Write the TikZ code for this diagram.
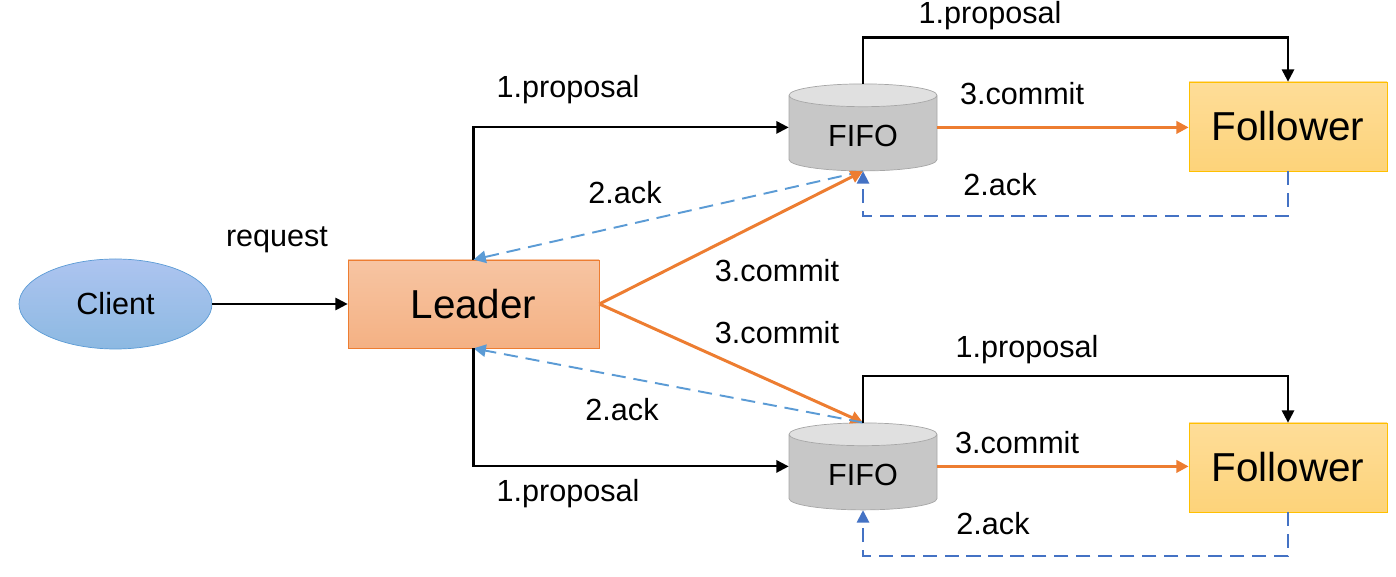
\documentclass[tikz,border=0pt]{standalone}
\usepackage{fontspec}
\setmainfont{Liberation Sans}
\usetikzlibrary{arrows.meta,shapes.geometric}
\definecolor{orangeln}{RGB}{237,125,49}
\definecolor{ackblue}{RGB}{91,155,213}
\definecolor{loopblue}{RGB}{68,114,196}
\tikzset{
  lbl/.style={font=\fontsize{17.4}{20}\selectfont},
  big/.style={font=\fontsize{23}{26}\selectfont},
  tip/.style={-{Triangle[length=7pt,width=7pt]}},
  msg/.style={tip,line width=1.2pt},
  commit/.style={tip,line width=1.7pt,draw=orangeln},
  ack/.style={tip,line width=1.1pt,draw=ackblue,dash pattern=on 8pt off 4.5pt},
  back/.style={tip,line width=1.1pt,draw=loopblue,dash pattern=on 8pt off 4.5pt},
  clientnode/.style={ellipse,draw=ackblue,top color=blue!20!ackblue!45,bottom color=ackblue!70,
    minimum width=3.86cm,minimum height=1.8cm,lbl},
  leadernode/.style={rectangle,draw=orangeln,top color=orangeln!45,bottom color=orangeln!60,
    minimum width=5.02cm,minimum height=1.76cm,big},
  follownode/.style={rectangle,draw={rgb,255:red,255;green,192;blue,0},
    top color={rgb,255:red,254;green,221;blue,152},bottom color={rgb,255:red,253;green,211;blue,122},
    minimum width=3.96cm,minimum height=1.78cm,big},
  fifonode/.style={cylinder,shape border rotate=90,aspect=0.28,draw=black!35,
    cylinder uses custom fill,cylinder body fill=black!22,cylinder end fill=black!12,
    minimum width=2.96cm,minimum height=1.74cm,lbl}
}
\begin{document}
\begin{tikzpicture}
\useasboundingbox (0,0) rectangle (27.92,11.52);
% nodes
\node[clientnode] (client) at (2.31,5.44) {Client};
\node[leadernode] (leader) at (9.47,5.44) {Leader};
\node[fifonode] (fifoA) at (17.26,8.81) {FIFO};
\node[fifonode] (fifoB) at (17.26,2.03) {FIFO};
\node[follownode] (followA) at (25.76,8.99) {Follower};
\node[follownode] (followB) at (25.76,2.17) {Follower};
% client to leader
\draw[msg] (client) -- (leader);
\node[lbl] (req) at (5.54,6.72) {request};
% upper branch
\draw[msg] (leader.north) |- (fifoA.shape center -| fifoA.west);
\draw[msg] (fifoA.north) -- ++(0,0.92) -| (followA.north);
\draw[commit] (fifoA.shape center -| fifoA.east) -- (fifoA.shape center -| followA.west);
\draw[back] (followA.south) -- ++(0,-0.9) -| (fifoA.south);
\draw[ack] (fifoA.south) -- (leader.north);
\draw[commit] (leader.east) -- (fifoA.south);
\node[lbl] (propA) at (11.36,9.72) {1.proposal};
\node[lbl] (propA2) at (19.8,11.2) {1.proposal};
\node[lbl] (comA2) at (20.44,9.64) {3.commit};
\node[lbl] (ackA2) at (20.0,7.82) {2.ack};
\node[lbl] (ackA) at (12.5,7.66) {2.ack};
\node[lbl] (comA) at (15.54,6.1) {3.commit};
% lower branch
\draw[commit] (leader.east) -- (fifoB.north);
\draw[ack] (fifoB.north) -- (leader.south);
\draw[msg] (leader.south) |- (fifoB.shape center -| fifoB.west);
\draw[msg] (fifoB.north) -- ++(0,0.94) -| (followB.north);
\draw[commit] (fifoB.shape center -| fifoB.east) -- (fifoB.shape center -| followB.west);
\draw[back] (followB.south) -- ++(0,-0.88) -| (fifoB.south);
\node[lbl] (comB) at (15.54,4.86) {3.commit};
\node[lbl] (ackB) at (12.44,3.32) {2.ack};
\node[lbl] (propB) at (11.36,1.64) {1.proposal};
\node[lbl] (propB2) at (20.54,4.52) {1.proposal};
\node[lbl] (comB2) at (20.34,2.66) {3.commit};
\node[lbl] (ackB2) at (19.86,1.04) {2.ack};
\end{tikzpicture}
\end{document}
